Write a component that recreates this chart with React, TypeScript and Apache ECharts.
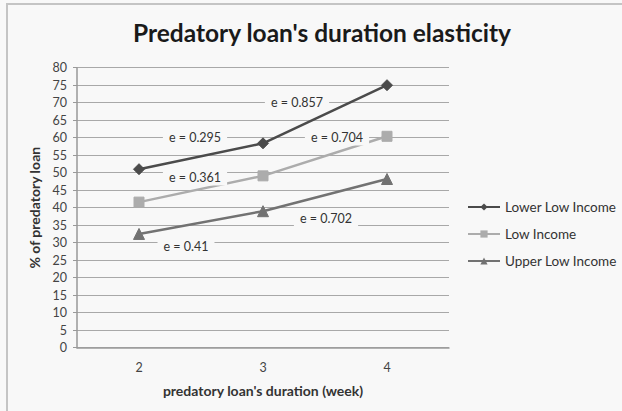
import React, { useEffect, useRef } from "react";
import * as echarts from "echarts";

const categories = ["2", "3", "4"];
const lowerLowIncome = [51, 58.4, 75];
const lowIncome = [41.6, 49.1, 60.4];
const upperLowIncome = [32.5, 39, 48.2];
const yTicks = { min: 0, max: 80, interval: 5 };
const annotations = [
  { text: "e = 0.857", x: 297, y: 102 },
  { text: "e = 0.295", x: 195, y: 137 },
  { text: "e = 0.704", x: 337, y: 137 },
  { text: "e = 0.361", x: 195, y: 177 },
  { text: "e = 0.702", x: 326, y: 218 },
  { text: "e = 0.41", x: 186, y: 246 },
];

const BG = "#f8f8f8";
const FONT = "Lato, 'Open Sans', sans-serif";

export default function App() {
  const ref = useRef<HTMLDivElement>(null);
  useEffect(() => {
    if (!ref.current) return;
    const chart = echarts.init(ref.current, undefined, { renderer: "svg" });
    const mk = (name: string, data: number[], color: string, symbol: string, size: number) => ({
      name,
      type: "line",
      data,
      symbol,
      symbolSize: size,
      showSymbol: true,
      lineStyle: { color, width: 2.5 },
      itemStyle: { color, borderColor: color },
      z: 3,
    });
    chart.setOption({
      animation: false,
      backgroundColor: BG,
      textStyle: { fontFamily: FONT },
      title: {
        text: "Predatory loan's duration elasticity",
        left: 317,
        textAlign: "center",
        top: 15,
        textStyle: { fontSize: 24.5, fontWeight: "bold", color: "#1a1a1a", fontFamily: FONT },
      },
      grid: { left: 77, right: 173, top: 67.7, bottom: 63.3, containLabel: false },
      legend: {
        orient: "vertical",
        left: 462,
        top: 195,
        itemWidth: 32,
        itemHeight: 9,
        itemGap: 13,
        textStyle: { fontSize: 13.5, color: "#333", fontFamily: FONT },
        data: ["Lower Low Income", "Low Income", "Upper Low Income"],
      },
      xAxis: {
        type: "category",
        data: categories,
        boundaryGap: true,
        axisTick: { show: false },
        axisLine: { lineStyle: { color: "#999", width: 1.5 } },
        axisLabel: { fontSize: 12.5, color: "#444", margin: 13 },
        name: "predatory loan's duration (week)",
        nameLocation: "middle",
        nameGap: 36,
        nameTextStyle: { fontSize: 14, fontWeight: "bold", color: "#333" },
      },
      yAxis: {
        type: "value",
        min: yTicks.min,
        max: yTicks.max,
        interval: yTicks.interval,
        axisLine: { show: true, lineStyle: { color: "#999", width: 1.5 } },
        axisTick: { show: true, length: 4, lineStyle: { color: "#999" } },
        axisLabel: { fontSize: 12.5, color: "#444", margin: 10 },
        splitLine: { lineStyle: { color: "#a8a8a8", width: 1.2 } },
        name: "% of predatory loan",
        nameLocation: "middle",
        nameGap: 34,
        nameTextStyle: { fontSize: 14, fontWeight: "bold", color: "#333" },
      },
      series: [
        mk("Lower Low Income", lowerLowIncome, "#4b4b4b", "diamond", 11),
        mk("Low Income", lowIncome, "#acacac", "rect", 10),
        mk("Upper Low Income", upperLowIncome, "#727272", "triangle", 11),
      ],
      graphic: [
        {
          type: "rect",
          shape: { x: 7, y: 4, width: 700, height: 500 },
          style: { fill: "none", stroke: "#c4c4c4", lineWidth: 2 },
          silent: true,
          z: 0,
        },
        ...annotations.map((a) => ({
          type: "text",
          x: a.x,
          y: a.y,
          z: 100,
          style: {
            text: a.text,
            fontSize: 12.5,
            fontFamily: FONT,
            fill: "#333",
            align: "center",
            verticalAlign: "middle",
            backgroundColor: BG,
            padding: [2, 6],
          },
        })),
      ],
    });
    return () => chart.dispose();
  }, []);
  return (
    <div
      ref={ref}
      style={{ position: "fixed", left: 0, top: 0, width: 622, height: 411 }}
    />
  );
}
